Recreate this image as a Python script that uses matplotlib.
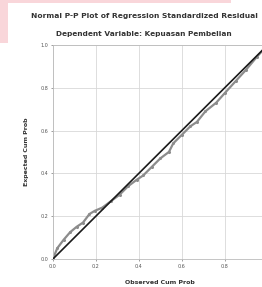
import numpy as np
import matplotlib
matplotlib.use('Agg')
import matplotlib.pyplot as plt
from matplotlib.patches import Rectangle

# P-P points
observed = [0.0, 0.02, 0.05, 0.08, 0.11, 0.14, 0.17, 0.195, 0.23, 0.27, 0.31, 0.35, 0.39, 0.42,
            0.46, 0.50, 0.54, 0.56, 0.60, 0.64, 0.67, 0.71, 0.76, 0.80, 0.85, 0.90, 0.95, 1.0]
expected = [0.0, 0.05, 0.09, 0.125, 0.15, 0.17, 0.21, 0.225, 0.24, 0.27, 0.30, 0.34, 0.37, 0.39,
            0.43, 0.47, 0.50, 0.54, 0.58, 0.62, 0.64, 0.69, 0.73, 0.775, 0.83, 0.885, 0.945, 1.0]
ref_line = [0.0, 1.0]
ticks = [0.0, 0.2, 0.4, 0.6, 0.8, 1.0]
y_tick_labels = ['0.0', '0.2', '0.4', '0.6', '0.8', '1.0']
x_tick_labels = ['0.0', '0.2', '0.4', '0.6', '0.8', '']   # 1.0 falls outside the crop

fig = plt.figure(figsize=(2.62, 2.87), dpi=100)
fig.patch.set_facecolor('white')

# pink screenshot edge at top-left
fig.patches.append(Rectangle((0, 0.989), 0.88, 0.011, transform=fig.transFigure,
                             facecolor='#f9d6da', edgecolor='none', zorder=0))
fig.patches.append(Rectangle((0, 0.85), 0.03, 0.15, transform=fig.transFigure,
                             facecolor='#f9d6da', edgecolor='none', zorder=0))

ax = fig.add_axes([0.202, 0.0976, 0.82, 0.746])
ax.plot(observed, expected, color='#8c8c8c', linewidth=1.6, marker='o', markersize=1.2, zorder=2)
ax.plot(ref_line, ref_line, color='#1a1a1a', linewidth=1.2, zorder=3)

ax.set_xlim(0, 1)
ax.set_ylim(0, 1)
ax.set_xticks(ticks)
ax.set_yticks(ticks)
ax.set_xticklabels(x_tick_labels)
ax.set_yticklabels(y_tick_labels)
ax.tick_params(labelsize=3.5, colors='#555555', length=1.5, width=0.4, pad=2)
ax.grid(True, color='#d8d8d8', linewidth=0.6)
ax.set_axisbelow(True)
for s in ax.spines.values():
    s.set_color('#bbbbbb')
    s.set_linewidth(0.6)

ax.set_xlabel('Observed Cum Prob', fontsize=4.5, fontweight='bold', color='#333333', labelpad=8)
ax.set_ylabel('Expected Cum Prob', fontsize=4.5, fontweight='bold', color='#333333', labelpad=8)

fig.text(0.55, 0.945, 'Normal P-P Plot of Regression Standardized Residual', fontsize=5.4,
         fontweight='bold', color='#333333', ha='center', va='center')
fig.text(0.55, 0.88, 'Dependent Variable: Kepuasan Pembelian', fontsize=5.3,
         fontweight='bold', color='#333333', ha='center', va='center')

plt.savefig('out.png', dpi=100)
